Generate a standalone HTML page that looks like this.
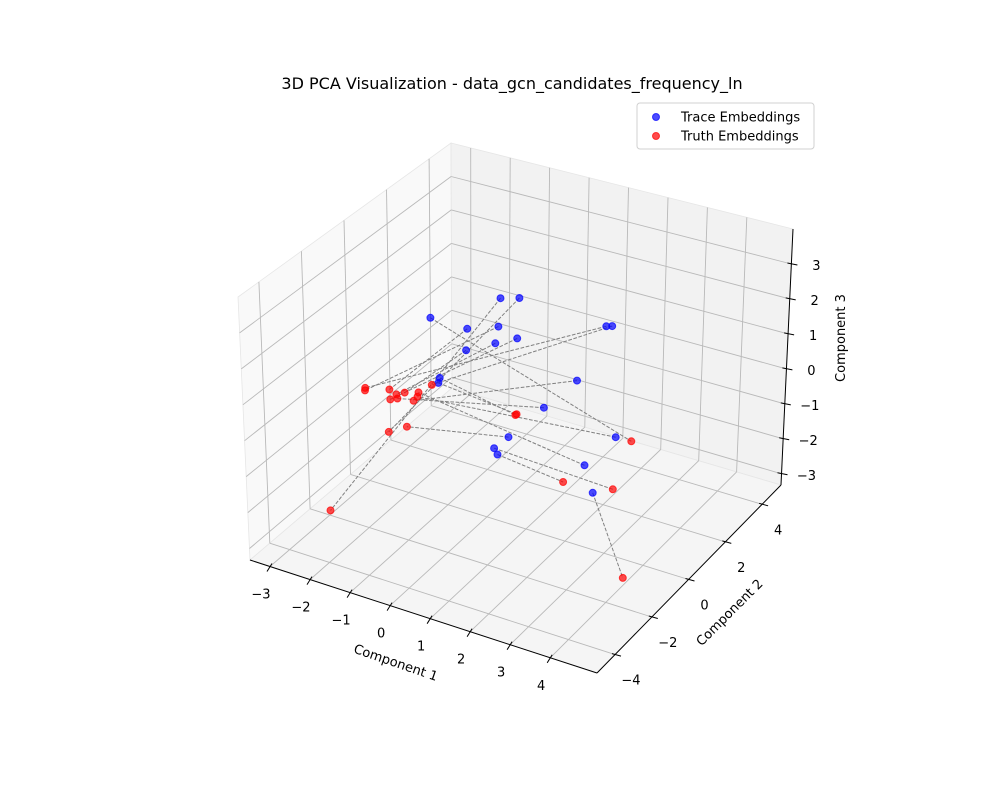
<!DOCTYPE html>
<html><head><meta charset="utf-8"><style>
html,body{margin:0;padding:0;background:#fff;}
svg{display:block;font-family:"DejaVu Sans","Liberation Sans",sans-serif;}
</style></head><body>
<svg id="chart" width="1000" height="800" viewBox="0 0 1000 800" xmlns="http://www.w3.org/2000/svg">
<rect width="1000" height="800" fill="#fff"/>
<text x="512" y="89" text-anchor="middle" font-size="16">3D PCA Visualization - data_gcn_candidates_frequency_ln</text>
<g id="panes"></g><g id="grid"></g><g id="axes"></g><g id="lines"></g><g id="points"></g>
<g>
<rect x="637" y="103" width="177" height="46" rx="3" fill="#fff" fill-opacity="0.8" stroke="#d0d0d0"/>
<circle cx="656" cy="117" r="3.5" fill="#0000ff" fill-opacity="0.7" stroke="#0000ff" stroke-opacity="0.7"/>
<text x="681" y="121.5" font-size="13">Trace Embeddings</text>
<circle cx="656" cy="136" r="3.5" fill="#ff0000" fill-opacity="0.7" stroke="#ff0000" stroke-opacity="0.7"/>
<text x="681" y="140.5" font-size="13">Truth Embeddings</text>
</g>
</svg>
<script>
const xTicks=[-3,-2,-1,0,1,2,3,4];
const yTicks=[-4,-2,0,2,4];
const zTicks=[-3,-2,-1,0,1,2,3];
const traceX=[-0.15,0.2,-1.41,-0.88,0.06,1.7,1.81,-0.02,0.44,-0.57,-0.84,-0.75,1.19,0.92,0.73,2.41,0.7,0.9,2.4,3.5];
const traceY=[1.0,1.24,0.03,0.79,0.48,2.63,2.71,0.48,0.66,0.12,-0.66,-0.9,2.2,1.06,-0.36,1.76,-1.03,-1.26,0.16,-1.7];
const traceZ=[2.34,2.34,1.84,1.34,1.84,1.34,1.34,1.34,1.54,1.14,0.64,0.64,-0.16,-0.46,-0.66,-1.16,-0.66,-0.66,-1.16,-0.66];
const truthX=[-2.57,-1.22,2.8,-1.75,-2.18,-2.2,-1.07,-1.51,-1.51,-1.4,0.77,0.79,-1.05,-1.4,-1.0,-1.07,3.44,2.34,-1.1,4.32];
const truthY=[-2.78,-2.45,1.78,-1.35,-1.7,-1.65,-0.6,-1.48,-1.78,-1.29,-0.09,-0.07,-1.54,-1.65,-1.99,-1.31,-0.51,-0.83,-1.2,-1.78];
const truthZ=[-2.66,-0.16,-1.16,0.34,0.34,0.38,0.34,0.34,0.34,0.34,-0.16,-0.14,0.34,0.34,-0.16,0.34,-1.16,-1.16,0.4,-2.66];

const NS="http://www.w3.org/2000/svg";
const LIM={x0:-3.5,x1:5.17,y0:-4.98,y1:5.03,z0:-3.32,z1:4.0};
const C={"000":[250,560],"100":[597,673],"110":[781,485],"010":[452,388],"001":[238,297],"101":[600,393],"111":[793,229],"011":[451,143]};
function proj(x,y,z){
  const u=(x-LIM.x0)/(LIM.x1-LIM.x0),v=(y-LIM.y0)/(LIM.y1-LIM.y0),w=(z-LIM.z0)/(LIM.z1-LIM.z0);
  let px=0,py=0;
  for(const a of [0,1])for(const b of [0,1])for(const c of [0,1]){
    const wt=(a?u:1-u)*(b?v:1-v)*(c?w:1-w);const p=C[""+a+b+c];px+=wt*p[0];py+=wt*p[1];}
  return [px,py];
}
function mk(tag,attrs,parent){const e=document.createElementNS(NS,tag);for(const k in attrs)e.setAttribute(k,attrs[k]);parent.appendChild(e);return e;}
function seg(p,q,parent,attrs){return mk("line",Object.assign({x1:p[0].toFixed(1),y1:p[1].toFixed(1),x2:q[0].toFixed(1),y2:q[1].toFixed(1)},attrs),parent);}
const panes=document.getElementById("panes"),grid=document.getElementById("grid"),axes=document.getElementById("axes"),lines=document.getElementById("lines"),points=document.getElementById("points");
function poly(keys,fill,name){const e=mk("polygon",{points:keys.map(k=>C[k].join(",")).join(" "),fill:fill,stroke:"#e6e6e6","stroke-width":"0.8"},panes);

}
poly(["000","010","011","001"],"#f9f9f9","left-pane");
poly(["010","110","111","011"],"#f2f2f2","back-pane");
poly(["000","100","110","010"],"#f5f5f5","floor-pane");
const gs={stroke:"#b9b9b9","stroke-width":"0.9"};
xTicks.forEach(t=>{
  const a=seg(proj(t,LIM.y0,LIM.z0),proj(t,LIM.y1,LIM.z0),grid,gs);
  
  
  const b=seg(proj(t,LIM.y1,LIM.z0),proj(t,LIM.y1,LIM.z1),grid,gs);
  
  
});
yTicks.forEach(t=>{
  const a=seg(proj(LIM.x0,t,LIM.z0),proj(LIM.x1,t,LIM.z0),grid,gs);
  
  
  const b=seg(proj(LIM.x0,t,LIM.z0),proj(LIM.x0,t,LIM.z1),grid,gs);
  
  
});
zTicks.forEach(t=>{
  const a=seg(proj(LIM.x0,LIM.y0,t),proj(LIM.x0,LIM.y1,t),grid,gs);
  
  
  const b=seg(proj(LIM.x0,LIM.y1,t),proj(LIM.x1,LIM.y1,t),grid,gs);
  
  
});
const as={stroke:"#000","stroke-width":"1"};
let ax=seg(C["000"],C["100"],axes,as);


ax=seg(C["100"],C["110"],axes,as);


ax=seg(C["110"],C["111"],axes,as);


function label(txt,x,y,name,extra){const e=mk("text",Object.assign({x:x.toFixed(1),y:y.toFixed(1),"text-anchor":"middle","font-size":"13"},extra||{}),axes);e.textContent=txt;

return e;}
function fmt(t){return t<0?"\u2212"+(-t):""+t;}
xTicks.forEach(t=>{
  const p=proj(t,LIM.y0,LIM.z0);
  const tk=seg([p[0]+2,p[1]-3],[p[0]-3,p[1]+5],axes,as);
  
  
  label(fmt(t),p[0]-9,p[1]+32,'x-tick-label');
});
yTicks.forEach(t=>{
  const p=proj(LIM.x1,t,LIM.z0);
  const tk=seg([p[0]-3,p[1]-1],[p[0]+6,p[1]+1.5],axes,as);
  
  
  label(fmt(t),p[0]+16,p[1]+30,'y-tick-label');
});
zTicks.forEach(t=>{
  const p=proj(LIM.x1,LIM.y1,t);
  const tk=seg([p[0]-4,p[1]-1],[p[0]+6,p[1]+1],axes,as);
  
  
  label(fmt(t),p[0]+25,p[1]+6,'z-tick-label');
});
label("Component 1",396,667,'x-axis-title',{transform:"rotate(19 396 662)"});
label("Component 2",729,617,'y-axis-title',{transform:"rotate(-45 729 612)"});
label("Component 3",845,338,'z-axis-title',{transform:"rotate(-90 845 338)"});
for(let i=0;i<traceX.length;i++){
  const l=seg(proj(traceX[i],traceY[i],traceZ[i]),proj(truthX[i],truthY[i],truthZ[i]),lines,{stroke:"#808080","stroke-width":"1","stroke-dasharray":"3.7 1.6"});
  
  
}
function dot(x,y,z,col,name){const p=proj(x,y,z);const c=mk("circle",{cx:p[0].toFixed(1),cy:p[1].toFixed(1),r:"3.5",fill:col,"fill-opacity":"0.7",stroke:col,"stroke-opacity":"0.7"},points);

}
for(let i=0;i<traceX.length;i++)dot(traceX[i],traceY[i],traceZ[i],"#0000ff","trace-point");
for(let i=0;i<truthX.length;i++)dot(truthX[i],truthY[i],truthZ[i],"#ff0000","truth-point");
</script>
</body></html>
